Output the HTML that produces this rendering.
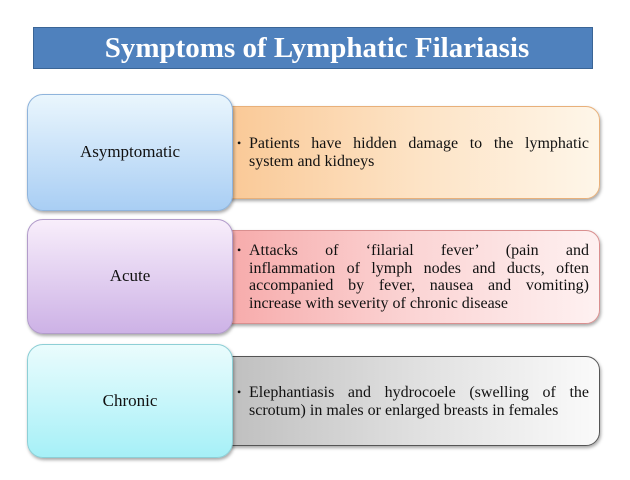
<!DOCTYPE html>
<html><head><style>
body{margin:0;width:630px;height:480px;background:#fff;position:relative;font-family:"Liberation Serif",serif;overflow:hidden}
.t{position:absolute;left:33px;top:27px;width:560px;height:42px;background:#4f81bd;border:1px solid #3a6596;box-sizing:border-box;color:#fff;font-weight:bold;font-size:29px;text-align:center;line-height:40px;padding-left:8px}
.r{position:absolute;left:193px;width:407px;border-radius:14px;box-sizing:border-box;box-shadow:1px 2px 3px rgba(0,0,0,.35)}
.l{position:absolute;left:27px;width:206px;border-radius:16px;box-sizing:border-box;box-shadow:1px 2px 3px rgba(0,0,0,.35);display:flex;align-items:center;justify-content:center;font-size:17px;color:#111}
.tx{position:absolute;left:237px;width:352px;font-size:16px;line-height:17.5px;color:#111;padding-left:12px;box-sizing:border-box}
.tx:before{content:"•";position:absolute;left:0;top:0;font-size:12px}
.tx div{text-align:justify;text-align-last:justify;white-space:nowrap}
.tx div.e{text-align-last:left}
</style></head><body>
<div class="t">Symptoms of Lymphatic Filariasis</div>

<div class="r" style="top:106px;height:93px;background:linear-gradient(90deg,#f9c48e,#fde3c5 55%,#fef6e9);border:1px solid #e8b07a"></div>
<div class="l" style="top:94px;height:117px;background:linear-gradient(180deg,#eaf6fd,#a9cef4);border:1px solid #8fb4dc;padding-bottom:2px">Asymptomatic</div>
<div class="tx" style="top:135px"><div>Patients have hidden damage to the lymphatic</div><div class="e">system and kidneys</div></div>

<div class="r" style="top:230px;height:94px;background:linear-gradient(90deg,#f6a3a3,#fbd5d5 55%,#fef1f1);border:1px solid #d98f8f"></div>
<div class="l" style="top:219px;height:115px;background:linear-gradient(180deg,#f8eefb,#cdb2e6);border:1px solid #b29ccb;padding-bottom:2px">Acute</div>
<div class="tx" style="top:242px"><div>Attacks of ‘filarial fever’ (pain and</div><div>inflammation of lymph nodes and ducts, often</div><div>accompanied by fever, nausea and vomiting)</div><div class="e">increase with severity of chronic disease</div></div>

<div class="r" style="top:356px;height:90px;background:linear-gradient(90deg,#b9b9b9,#e0e0e0 55%,#fafafa);border:1px solid #555"></div>
<div class="l" style="top:344px;height:114px;background:linear-gradient(180deg,#eafcfd,#a6f0f7);border:1px solid #8dcfd6">Chronic</div>
<div class="tx" style="top:384px"><div>Elephantiasis and hydrocoele (swelling of the</div><div class="e">scrotum) in males or enlarged breasts in females</div></div>
</body></html>
